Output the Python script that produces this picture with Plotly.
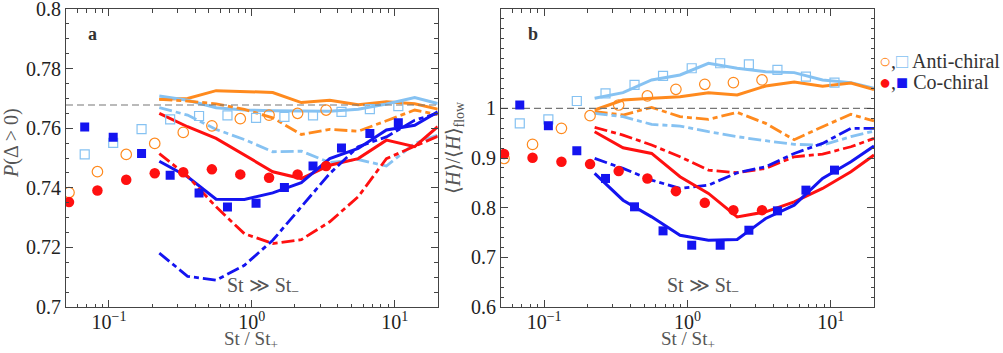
import numpy as np
import plotly.graph_objects as go

# ---------------- data ----------------
St_circ = [0.0525, 0.083, 0.132, 0.209, 0.331, 0.525, 0.83, 1.32, 2.09, 3.31]
St_sq = [0.0676, 0.107, 0.169, 0.268, 0.427, 0.675, 1.07, 1.69, 2.68, 4.24, 6.7, 10.6]
St_line = [0.225, 0.355, 0.562, 0.887, 1.40, 2.22, 3.51, 5.55, 8.75, 13.8, 20.0]

# panel a : P(Delta > 0)
a_anti_circ = [0.7384, 0.7454, 0.7512, 0.7549, 0.7586, 0.7608, 0.7632, 0.7644, 0.7650, 0.7661]
a_co_circ = [0.7352, 0.7391, 0.7427, 0.7449, 0.7452, 0.7462, 0.7445, 0.7434, 0.7445, 0.7473]
a_anti_sq = [0.7512, 0.7551, 0.7597, 0.7630, 0.7641, 0.7643, 0.7635, 0.7638, 0.7643, 0.7655, 0.7664, 0.7674]
a_co_sq = [0.7604, 0.7570, 0.7515, 0.7442, 0.7383, 0.7336, 0.7348, 0.7401, 0.7473, 0.7534, 0.7582, 0.7618]

a_orange_solid = [0.7697, 0.7700, 0.7726, 0.7722, 0.7720, 0.7686, 0.7694, 0.7679, 0.7689, 0.7682, 0.7664]
a_lblue_solid = [0.7708, 0.7694, 0.7669, 0.7661, 0.7659, 0.7657, 0.7657, 0.7664, 0.7681, 0.7703, 0.7683]
a_orange_dash = [0.7697, 0.7691, 0.7682, 0.7663, 0.7635, 0.7579, 0.7596, 0.7590, 0.7625, 0.7661, 0.7646]
a_lblue_dash = [0.7669, 0.7644, 0.7596, 0.7562, 0.7521, 0.7523, 0.7485, 0.7495, 0.7473, 0.7549, 0.7577]
a_red_solid = [0.7650, 0.7605, 0.7566, 0.7510, 0.7454, 0.7431, 0.7476, 0.7498, 0.7560, 0.7538, 0.7605]
a_blue_solid = [0.7489, 0.7437, 0.7362, 0.7361, 0.7383, 0.7417, 0.7498, 0.7532, 0.7594, 0.7610, 0.7655]
a_red_dash = [0.7515, 0.7439, 0.7336, 0.7246, 0.7213, 0.7226, 0.7286, 0.7370, 0.7498, 0.7538, 0.7573]
a_blue_dash = [0.7181, 0.7103, 0.7090, 0.7140, 0.7224, 0.7338, 0.7448, 0.7538, 0.7571, 0.7627, 0.7650]
a_ref = 0.7678

# panel b : <H>/<H>_flow
b_anti_circ = [0.899, 0.9274, 0.9597, 0.9852, 1.0067, 1.0249, 1.0383, 1.0484, 1.0518, 1.0571]
b_co_circ = [0.9079, 0.9005, 0.8924, 0.8877, 0.8736, 0.8588, 0.8333, 0.8097, 0.7950, 0.7950]
b_anti_sq = [0.9697, 0.9778, 1.0148, 1.0303, 1.0471, 1.0652, 1.0807, 1.0908, 1.0887, 1.0773, 1.0639, 1.0518]
b_co_sq = [1.0067, 0.9650, 0.9146, 0.8588, 0.8017, 0.7533, 0.7244, 0.7244, 0.7546, 0.7936, 0.8353, 0.8756]

b_lblue_solid = [1.0202, 1.0316, 1.0571, 1.0672, 1.0908, 1.0807, 1.0739, 1.0719, 1.0571, 1.0518, 1.0403]
b_orange_solid = [0.9966, 1.0168, 1.0202, 1.0235, 1.0316, 1.0269, 1.0450, 1.0531, 1.0444, 1.0511, 1.0376]
b_orange_dash = [0.9933, 0.9866, 1.0020, 0.9832, 0.9778, 0.9919, 0.9697, 0.9368, 0.9630, 0.9879, 0.9745]
b_lblue_dash = [0.9899, 0.9832, 0.9677, 0.9644, 0.9529, 0.9429, 0.9348, 0.9274, 0.9261, 0.9429, 0.9543]
b_red_dash = [0.9617, 0.9462, 0.9261, 0.9025, 0.8756, 0.8703, 0.8790, 0.9025, 0.9079, 0.9227, 0.9395]
b_blue_dash = [0.8992, 0.8790, 0.8555, 0.8387, 0.8454, 0.8703, 0.8824, 0.9092, 0.9294, 0.9597, 0.9597]
b_red_solid = [0.9529, 0.9207, 0.9092, 0.8622, 0.8286, 0.7815, 0.7916, 0.8118, 0.8387, 0.8723, 0.9059]
b_blue_solid = [0.8689, 0.8151, 0.7815, 0.7445, 0.7345, 0.7358, 0.7782, 0.8050, 0.8588, 0.8924, 0.9240]
b_ref = 1.0

# ---------------- styles ----------------
ORANGE = "#ff8a1e"
LBLUE = "#86c2f2"
RED = "#ff1010"
BLUE = "#1414f0"
DASH = "13px,4px,5px,4px"
FONT = "Liberation Serif"

fig = go.Figure()


def add_panel(xa, ya, lines, markers, ref):
    for y, color, dash in lines:
        fig.add_trace(go.Scatter(x=St_line, y=y, mode="lines", xaxis=xa, yaxis=ya,
                                 line=dict(color=color, width=3 if dash == "solid" else 2.8, dash=dash),
                                 showlegend=False, hoverinfo="skip"))
    fig.add_trace(go.Scatter(x=[0.05, 20], y=[ref, ref], mode="lines", xaxis=xa, yaxis=ya,
                             line=dict(color="#777777", width=1.2, dash="7px,4px"),
                             showlegend=False, hoverinfo="skip"))
    for x, y, color, sym in markers:
        open_ = "open" in sym
        fig.add_trace(go.Scatter(x=x, y=y, mode="markers", xaxis=xa, yaxis=ya,
                                 marker=dict(symbol=sym, color=color, size=10.5 if "circle" in sym else 9,
                                             line=dict(color=color, width=1.2 if open_ else 0)),
                                 cliponaxis=True, showlegend=False, hoverinfo="skip"))


add_panel("x", "y",
          [(a_orange_solid, ORANGE, "solid"), (a_lblue_solid, LBLUE, "solid"),
           (a_orange_dash, ORANGE, DASH), (a_lblue_dash, LBLUE, DASH),
           (a_red_solid, RED, "solid"), (a_blue_solid, BLUE, "solid"),
           (a_red_dash, RED, DASH), (a_blue_dash, BLUE, DASH)],
          [(St_circ, a_anti_circ, ORANGE, "circle-open"), (St_circ, a_co_circ, RED, "circle"),
           (St_sq, a_anti_sq, LBLUE, "square-open"), (St_sq, a_co_sq, BLUE, "square")],
          a_ref)

add_panel("x2", "y2",
          [(b_lblue_solid, LBLUE, "solid"), (b_orange_solid, ORANGE, "solid"),
           (b_orange_dash, ORANGE, DASH), (b_lblue_dash, LBLUE, DASH),
           (b_red_dash, RED, DASH), (b_blue_dash, BLUE, DASH),
           (b_red_solid, RED, "solid"), (b_blue_solid, BLUE, "solid")],
          [(St_circ, b_anti_circ, ORANGE, "circle-open"), (St_circ, b_co_circ, RED, "circle"),
           (St_sq, b_anti_sq, LBLUE, "square-open"), (St_sq, b_co_sq, BLUE, "square")],
          b_ref)

x_minor = [0.05, 0.06, 0.07, 0.08, 0.09] + [k / 10 for k in range(2, 10)] + list(range(2, 10)) + [20]

TICKSIZE = 20
xaxis_common = dict(type="log", range=[np.log10(0.05), np.log10(20)],
                    tickvals=[0.1, 1, 10],
                    ticktext=["10<sup>−1</sup>", "10<sup>0</sup>", "10<sup>1</sup>"],
                    ticks="inside", ticklen=7, tickwidth=1, tickcolor="#444",
                    minor=dict(tickvals=x_minor, ticks="inside", ticklen=3.5, tickcolor="#444"),
                    showline=True, linecolor="#444", linewidth=1, mirror="ticks",
                    showgrid=False, zeroline=False, ticklabeloverflow="allow", automargin=False,
                    ticklabelstandoff=-3,
                    tickfont=dict(family=FONT, size=TICKSIZE, color="#222"))

yaxis_common = dict(ticks="inside", ticklen=7, tickwidth=1, tickcolor="#444",
                    showline=True, linecolor="#444", linewidth=1, mirror="ticks",
                    showgrid=False, zeroline=False, ticklabeloverflow="allow", automargin=False,
                    tickfont=dict(family=FONT, size=TICKSIZE, color="#222"))

fig.update_layout(
    width=1003, height=353, autosize=False,
    margin=dict(l=0, r=0, t=0, b=0),
    paper_bgcolor="white", plot_bgcolor="white",
    xaxis=dict(domain=[0.0658, 0.4364], anchor="y", **xaxis_common),
    xaxis2=dict(domain=[0.4995, 0.8714], anchor="y2", **xaxis_common),
    yaxis=dict(domain=[0.1303, 0.9745], anchor="x", range=[0.7, 0.80001],
               tickvals=[0.7, 0.72, 0.74, 0.76, 0.78, 0.8],
               ticktext=["0.7", "0.72", "0.74", "0.76", "0.78", "0.8"],
               minor=dict(dtick=0.005, ticks="inside", ticklen=3.5, tickcolor="#444"),
               **yaxis_common),
    yaxis2=dict(domain=[0.1303, 0.9745], anchor="x2", range=[0.6, 1.2],
                tickvals=[0.6, 0.7, 0.8, 0.9, 1.0],
                ticktext=["0.6", "0.7", "0.8", "0.9", "1"],
                minor=dict(dtick=0.02, ticks="inside", ticklen=3.5, tickcolor="#444"),
                **yaxis_common),
)

ann_font = dict(family=FONT, size=20, color="#555")
annotations = [
    dict(x=0.0927, y=0.9037, text="<b>a</b>", font=dict(family=FONT, size=18, color="#333")),
    dict(x=0.5314, y=0.9037, text="<b>b</b>", font=dict(family=FONT, size=18, color="#333")),
    dict(x=0.2622, y=0.187, text="St ≫ St<sub>−</sub>", font=ann_font),
    dict(x=0.7009, y=0.187, text="St ≫ St<sub>−</sub>", font=ann_font),
    dict(x=0.2503, y=0.038, text="St / St<sub>+</sub>", font=dict(family=FONT, size=19, color="#555")),
    dict(x=0.686, y=0.038, text="St / St<sub>+</sub>", font=dict(family=FONT, size=19, color="#555")),
    dict(x=0.012, y=0.595, text="<i>P</i>(Δ > 0)", textangle=-90, font=ann_font),
    dict(x=0.4536, y=0.5836, text="⟨<i>H</i>⟩/⟨<i>H</i>⟩<sub>flow</sub>", textangle=-90, font=ann_font),
    dict(x=0.8744, y=0.827, xanchor="left",
         text=f"<span style='color:{ORANGE}'>○</span>,<span style='color:{LBLUE}'>□</span> Anti-chiral",
         font=dict(family=FONT, size=20, color="#333")),
    dict(x=0.8744, y=0.768, xanchor="left",
         text=f"<span style='color:{RED}'>●</span>,<span style='color:{BLUE}'>■</span> Co-chiral",
         font=dict(family=FONT, size=20, color="#333")),
]
for a in annotations:
    a.setdefault("xanchor", "center")
    fig.add_annotation(xref="paper", yref="paper", showarrow=False, yanchor="middle", **a)

fig.write_html("out.html")
